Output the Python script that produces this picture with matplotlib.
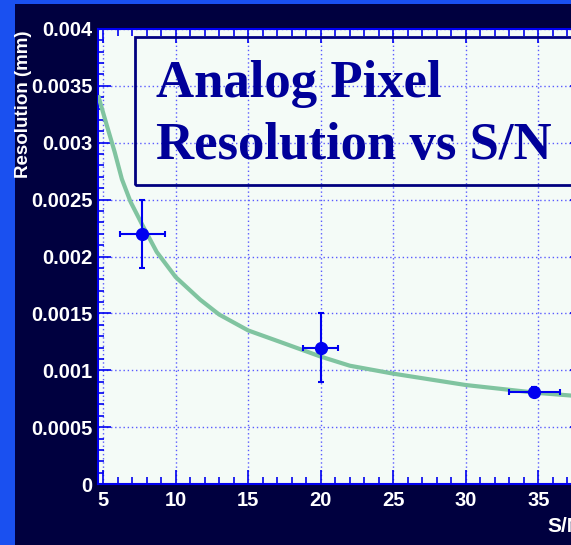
import matplotlib
matplotlib.use('Agg')
import matplotlib.pyplot as plt
from matplotlib.patches import Rectangle
from matplotlib.ticker import MultipleLocator, FixedLocator, FixedFormatter

# measured points (S/N, resolution in mm)
sn = [7.7, 20.0, 34.7]
sn_err = [1.55, 1.2, 1.75]
resolution = [0.0022, 0.0012, 0.00081]
resolution_err = [0.0003, 0.0003, 0.00004]

# fitted curve
curve_sn = [4.7, 5.2, 5.8, 6.3, 6.9, 7.7, 8.7, 10, 11.7, 13, 15, 17.4, 20, 22, 25, 30, 35, 40]
curve_res = [0.00340, 0.00318, 0.00292, 0.00268, 0.00248, 0.00228, 0.00204, 0.00182, 0.00162,
             0.00149, 0.00135, 0.00124, 0.00112, 0.00104, 0.00097, 0.00087, 0.00080, 0.00075]

y_ticks = [0, 0.0005, 0.001, 0.0015, 0.002, 0.0025, 0.003, 0.0035, 0.004]
y_tick_labels = ['0', '0.0005', '0.001', '0.0015', '0.002', '0.0025', '0.003', '0.0035', '0.004']
x_ticks = [5, 10, 15, 20, 25, 30, 35]
x_tick_labels = ['5', '10', '15', '20', '25', '30', '35']

navy = '#00003f'
blue = '#0000f0'
sans = ['Liberation Sans', 'DejaVu Sans']

fig = plt.figure(figsize=(5.71, 5.45), dpi=100)
fig.patch.set_facecolor('#1a50f0')
fig.add_artist(Rectangle((15 / 571, 0), 1, 1 - 4 / 545, transform=fig.transFigure,
                         facecolor=navy, edgecolor='none', zorder=0))

ax = fig.add_axes([98 / 571, 1 - 484 / 545, (582 - 98) / 571, (484 - 29) / 545])
ax.set_facecolor('#f4fbf7')
ax.set_xlim(4.655, 38.0)
ax.set_ylim(0, 0.004)

ax.plot(curve_sn, curve_res, color='#80c4a0', lw=3, zorder=3)
ax.errorbar(sn, resolution, xerr=sn_err, yerr=resolution_err, fmt='o', color=blue,
            ms=8.5, elinewidth=1.5, capsize=2.5, capthick=1.5, zorder=4)

ax.xaxis.set_major_locator(FixedLocator(x_ticks))
ax.xaxis.set_major_formatter(FixedFormatter(x_tick_labels))
ax.xaxis.set_minor_locator(MultipleLocator(1))
ax.yaxis.set_major_locator(FixedLocator(y_ticks))
ax.yaxis.set_major_formatter(FixedFormatter(y_tick_labels))
ax.yaxis.set_minor_locator(MultipleLocator(0.0001))

ax.grid(True, which='major', color='#5a5aff', linestyle=(0, (1, 2)), lw=1)
for s in ax.spines.values():
    s.set_color(blue)
    s.set_linewidth(1.5)

ax.tick_params(which='both', direction='in', color=blue, top=True, right=True)
ax.tick_params(axis='x', which='major', length=10, width=1.2, pad=5)
ax.tick_params(axis='x', which='minor', length=5, width=1.2)
ax.tick_params(axis='y', which='major', length=9, width=1.2, pad=4)
ax.tick_params(axis='y', which='minor', length=4.5, width=1.2)
for lab in ax.get_xticklabels() + ax.get_yticklabels():
    lab.set_color('white')
    lab.set_family(sans)
    lab.set_fontweight('bold')
    lab.set_fontsize(14.5)

ax.set_xlabel('S/N', loc='right', color='white', fontsize=15, fontweight='bold', family=sans)
ax.xaxis.set_label_coords(1.0, -0.072)
fig.text(24 / 571, 1 - 30 / 545, 'Resolution (mm)', rotation=90, ha='center', va='top',
         color='white', fontsize=13.5, fontweight='bold', family=sans)

# title box
fig.add_artist(Rectangle((135 / 571, 1 - 185 / 545), 0.9, (185 - 37) / 545,
                         transform=fig.transFigure, facecolor='none',
                         edgecolor='#000080', lw=2, zorder=5))
title_font = dict(family=['Liberation Serif', 'DejaVu Serif'], fontweight='bold',
                  fontsize=38, color='#000099', ha='left', va='baseline', zorder=6)
fig.text(156 / 571, 1 - 97 / 545, 'Analog Pixel', **title_font)
fig.text(156 / 571, 1 - 159 / 545, 'Resolution vs S/N', **title_font)

fig.savefig('out.png', dpi=100, facecolor=fig.get_facecolor())
